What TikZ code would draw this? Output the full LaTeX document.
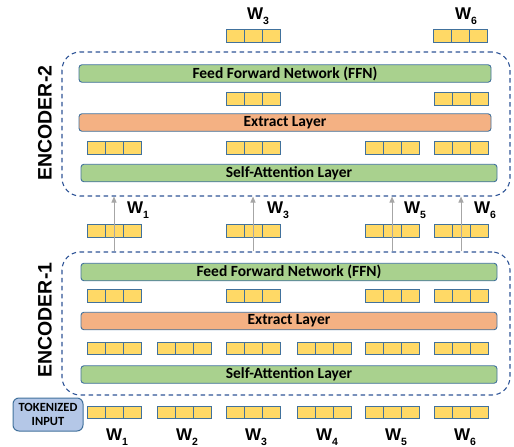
\documentclass[tikz,border=0pt]{standalone}
\usepackage{fontspec}
\setmainfont{Carlito}
\newfontfamily\arialf{Liberation Sans}
\usetikzlibrary{arrows.meta}
\definecolor{bdr}{HTML}{41719C}
\definecolor{dsh}{HTML}{2F5597}
\definecolor{tokY}{HTML}{FFD966}
\definecolor{grn}{HTML}{A9D18E}
\definecolor{org}{HTML}{F4B183}
\definecolor{inb}{HTML}{B4C7E7}
\definecolor{arrg}{HTML}{A6A6A6}
\newcommand\wlab[1]{W\raisebox{-4.5pt}{\fontsize{10.5}{10.5}\selectfont #1}}
\begin{document}
\begin{tikzpicture}[x=1pt,y=-1pt,
  tok/.style={draw=bdr, fill=tokY, line width=1pt, minimum width=54pt, minimum height=12.5pt, inner sep=0pt,
    path picture={
      \draw[bdr,line width=1pt] ([xshift=18pt]path picture bounding box.south west) -- ([xshift=18pt]path picture bounding box.north west);
      \draw[bdr,line width=1pt] ([xshift=-18pt]path picture bounding box.south east) -- ([xshift=-18pt]path picture bounding box.north east);}},
  bar/.style={draw=bdr, line width=0.9pt, rounded corners=3pt, minimum height=17.5pt, inner sep=0pt, font=\fontsize{15.5}{15.5}\selectfont\bfseries},
  ffn/.style={bar, fill=grn},
  ext/.style={bar, fill=org},
  dbox/.style={draw=dsh, line width=1.1pt, dash pattern=on 4.5pt off 3.5pt, rounded corners=18pt, inner sep=0pt},
  wl/.style={font=\arialf\fontsize{17}{17}\selectfont\bfseries, inner sep=0pt},
  enc/.style={font=\arialf\fontsize{19.5}{19.5}\selectfont\bfseries, rotate=90, inner sep=0pt},
  arr/.style={draw=arrg, line width=1pt, -{Triangle[length=6pt,width=5pt]}}
]
\useasboundingbox (0,0) rectangle (514,447);

% encoder boxes
\node[dbox, minimum width=448pt, minimum height=144pt] (enc2) at (286,124) {};
\node[dbox, minimum width=448pt, minimum height=143pt] (enc1) at (286,323.5) {};
\node[enc] (enc2l) at (45,123) {ENCODER-2};
\node[enc] (enc1l) at (45,320) {ENCODER-1};

% encoder-2 layers
\node[ffn, minimum width=412pt] (ffn2) at (285,73.5) {Feed Forward Network (FFN)};
\node[ext, minimum width=412pt] (ext2) at (285,122.5) {Extract Layer};
\node[ffn, minimum width=416pt] (sa2) at (289,173) {Self-Attention Layer};

% encoder-1 layers
\node[ffn, minimum width=416pt] (ffn1) at (289,272) {Feed Forward Network (FFN)};
\node[ext, minimum width=416pt] (ext1) at (289,321) {Extract Layer};
\node[ffn, minimum width=416pt] (sa1) at (289,374.5) {Self-Attention Layer};

% token rows
\node[tok] (t2o3) at (253,36) {};
\node[tok] (t2o6) at (460,36) {};
\node[tok] (t2b3) at (253,99) {};
\node[tok] (t2b6) at (461,99) {};
\node[tok] (t2a1) at (114,148) {};
\node[tok] (t2a3) at (253,148) {};
\node[tok] (t2a5) at (392,148) {};
\node[tok] (t2a6) at (461,148) {};

\node[tok] (o1) at (114,231) {};
\node[tok] (o3) at (253,231) {};
\node[tok] (o5) at (392,231) {};
\node[tok] (o6) at (461,231) {};

\node[tok] (t1b1) at (114,296) {};
\node[tok] (t1b3) at (253,296) {};
\node[tok] (t1b5) at (392,296) {};
\node[tok] (t1b6) at (461,296) {};
\node[tok] (t1a1) at (114,348.5) {};
\node[tok] (t1a2) at (184,348.5) {};
\node[tok] (t1a3) at (253,348.5) {};
\node[tok] (t1a4) at (324,348.5) {};
\node[tok] (t1a5) at (392,348.5) {};
\node[tok] (t1a6) at (461,348.5) {};

\node[tok] (i1) at (114,412.5) {};
\node[tok] (i2) at (184,412.5) {};
\node[tok] (i3) at (253,412.5) {};
\node[tok] (i4) at (324,412.5) {};
\node[tok] (i5) at (392,412.5) {};
\node[tok] (i6) at (461,412.5) {};

% arrows between encoders
\foreach \n in {o1,o3,o5,o6}
  \draw[arr] (enc1.north -| \n) -- (enc2.south -| \n);

% labels
\node[wl] (lt3) at (258,16) {\wlab{3}};
\node[wl] (lt6) at (466,16) {\wlab{6}};
\node[wl] (lm1) at (138,210) {\wlab{1}};
\node[wl] (lm3) at (278,210) {\wlab{3}};
\node[wl] (lm5) at (415,210) {\wlab{5}};
\node[wl] (lm6) at (485,210) {\wlab{6}};
\node[wl] (lb1) at (117,437) {\wlab{1}};
\node[wl] (lb2) at (187,437) {\wlab{2}};
\node[wl] (lb3) at (256,437) {\wlab{3}};
\node[wl] (lb4) at (327,437) {\wlab{4}};
\node[wl] (lb5) at (396,437) {\wlab{5}};
\node[wl] (lb6) at (465,437) {\wlab{6}};

% tokenized input
\node[draw=bdr, fill=inb, line width=1pt, rounded corners=6pt, minimum width=70pt, minimum height=33pt, inner sep=0pt,
  align=center, font=\fontsize{12.5}{14}\selectfont\bfseries] (tin) at (48,414.5) {TOKENIZED\\INPUT};
\end{tikzpicture}
\end{document}
